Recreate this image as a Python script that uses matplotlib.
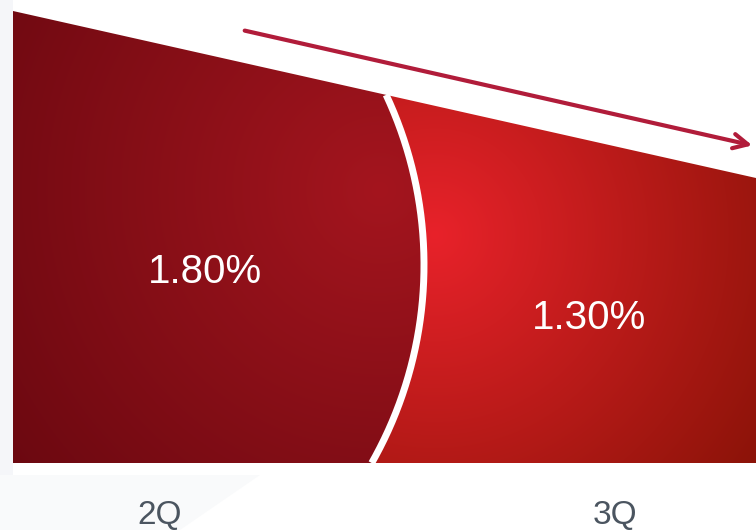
import numpy as np
import matplotlib
matplotlib.use('Agg')
import matplotlib.pyplot as plt
from matplotlib.patches import Polygon

# data
quarters = ['2Q', '3Q']
rates = [1.80, 1.30]
rate_labels = ['%.2f%%' % r for r in rates]

W, H = 756, 530

fig = plt.figure(figsize=(W / 100, H / 100), dpi=100)
ax = fig.add_axes([0, 0, 1, 1])
ax.set_xlim(0, W)
ax.set_ylim(H, 0)
ax.axis('off')

# faint background shapes
ax.add_patch(Polygon([(0, 0), (13, 0), (13, 530), (0, 530)], closed=True,
                     color='#f5f6f9', lw=0, zorder=0))
ax.add_patch(Polygon([(0, 475), (260, 475), (180, 530), (0, 530)], closed=True,
                     color='#f9fafb', lw=0, zorder=0))

# shape layout (pixels)
x0, x1 = 13, W
top0, top1 = 11, 178
bottom = 463
cx, cy, r = 23, 265, 401   # divider arc


def top_y(x):
    return top0 + (x - x0) * (top1 - top0) / (x1 - x0)


# intersection of arc with top edge (solve numerically)
xs = np.linspace(300, 450, 3000)
d = np.abs((xs - cx) ** 2 + (top_y(xs) - cy) ** 2 - r ** 2)
xa = xs[np.argmin(d)]
ya = top_y(xa)
ang_top = np.arctan2(ya - cy, xa - cx)
ang_bot = np.arctan2(bottom - cy, np.sqrt(r ** 2 - (bottom - cy) ** 2))
angs = np.linspace(ang_top, ang_bot, 200)
arc = np.column_stack([cx + r * np.cos(angs), cy + r * np.sin(angs)])

left_pts = [(x0, top0), (xa, ya)] + [tuple(p) for p in arc] + [(x0, bottom)]
right_pts = [(xa, ya), (x1, top1), (x1, bottom)] + [tuple(p) for p in arc[::-1]]

gx, gy = np.meshgrid(np.arange(W) + 0.5, np.arange(H) + 0.5)


def grad(c_in, c_out, px, py, rad):
    t = np.clip(np.hypot(gx - px, gy - py) / rad, 0, 1)[..., None]
    a = np.array(matplotlib.colors.to_rgb(c_in))
    b = np.array(matplotlib.colors.to_rgb(c_out))
    return a * (1 - t) + b * t


left_img = grad('#a4151e', '#690810', 380, 190, 480)
right_img = grad('#e8222a', '#8a1308', 435, 235, 400)

for img, pts in [(left_img, left_pts), (right_img, right_pts)]:
    poly = Polygon(pts, closed=True, fc='none', ec='none')
    ax.add_patch(poly)
    im = ax.imshow(img, extent=(0, W, H, 0), origin='upper', zorder=1,
                   interpolation='bilinear')
    im.set_clip_path(poly)

ax.plot(arc[:, 0], arc[:, 1], color='white', lw=5, zorder=2,
        solid_capstyle='butt')

# trend arrow
ax.annotate('', xy=(755, 146), xytext=(242, 30),
            arrowprops=dict(arrowstyle='->', color='#b11c3a', lw=3,
                            mutation_scale=26), zorder=3)

# labels
label_pos = [(205, 272), (589, 318)]
for (lx, ly), txt in zip(label_pos, rate_labels):
    ax.text(lx, ly, txt, color='white', fontsize=29, ha='center', va='center',
            family='Liberation Sans', zorder=4)

q_x = [160, 615]
for qx, q in zip(q_x, quarters):
    ax.text(qx, 515, q, color='#4b5560', fontsize=24, ha='center',
            va='center', family='Liberation Sans', zorder=4)

fig.savefig('out.png', dpi=100)
